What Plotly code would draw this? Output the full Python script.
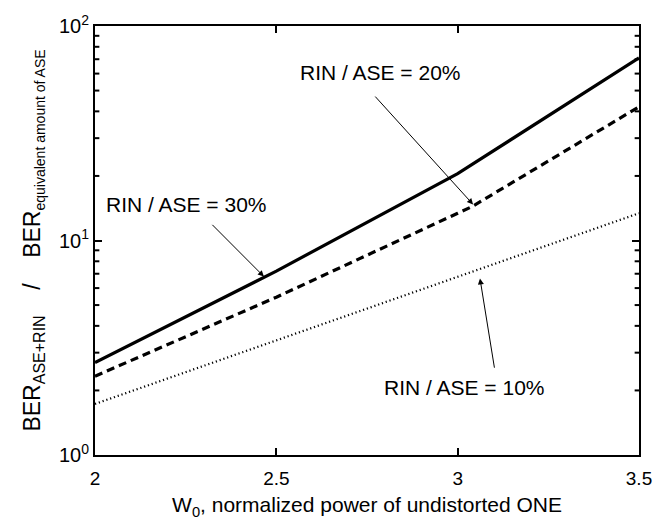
import plotly.graph_objects as go

# Data
x_solid = [2.0, 2.5, 3.0, 3.5]
y_solid = [2.70, 7.2, 20.5, 71.0]          # RIN / ASE = 30%
x_dash = [2.0, 2.5, 3.0, 3.04, 3.5]
y_dash = [2.33, 5.44, 13.4, 14.4, 42.0]     # RIN / ASE = 20%
x_dot = [2.0, 2.5, 3.0, 3.5]
y_dot = [1.73, 3.43, 6.8, 13.4]             # RIN / ASE = 10%

x_ticks = [2, 2.5, 3, 3.5]
x_ticktext = ["2", "2.5", "3", "3.5"]
y_ticks = [1, 10, 100]
y_ticktext = ["10<sup>0</sup>", "10<sup>1</sup>", "10<sup>2</sup>"]
y_minor = [2, 3, 4, 5, 6, 7, 8, 9, 20, 30, 40, 50, 60, 70, 80, 90]

FONT = "Liberation Sans, Arial, sans-serif"

fig = go.Figure()
fig.add_trace(go.Scatter(x=x_solid, y=y_solid, mode="lines",
                         line=dict(color="black", width=3.2)))
fig.add_trace(go.Scatter(x=x_dash, y=y_dash, mode="lines",
                         line=dict(color="black", width=3.2, dash="8px,5px")))
fig.add_trace(go.Scatter(x=x_dot, y=y_dot, mode="lines",
                         line=dict(color="black", width=2.2, dash="1.2px,2.8px")))

# minor log ticks on left and right frame edges
for v in y_minor:
    for x0, x1 in ((0, 0.008), (0.992, 1)):
        fig.add_shape(type="line", xref="x domain", yref="y", x0=x0, x1=x1,
                      y0=v, y1=v, line=dict(color="black", width=2))

def ann_text(x, ly, text):
    fig.add_annotation(x=x, y=ly, xref="x", yref="y", text=text, showarrow=False,
                       font=dict(family=FONT, size=21, color="black"))

def ann_arrow(tx, tly, hx, hly):
    fig.add_annotation(x=hx, y=hly, ax=tx, ay=tly, xref="x", yref="y",
                       axref="x", ayref="y", text="", showarrow=True,
                       arrowhead=2, arrowsize=1.2, arrowwidth=1, arrowcolor="black",
                       standoff=0, startstandoff=0)

ann_text(2.252, 1.168, "RIN / ASE = 30%")
ann_text(2.788, 1.784, "RIN / ASE = 20%")
ann_text(3.018, 0.313, "RIN / ASE = 10%")
ann_arrow(2.3195, 1.080, 2.4657, 0.832)
ann_arrow(2.769, 1.678, 3.0425, 1.168)
ann_arrow(3.102, 0.400, 3.0615, 0.823)

sp = "\u00a0"
ytitle = ("BER<sub><span style='font-size:16px'>ASE+RIN</span></sub>" + sp * 4 + "/" + sp * 4 +
          "BER<sub><span style='font-size:14px'>equivalent amount of ASE</span></sub>")

fig.update_layout(
    width=664, height=525,
    margin=dict(l=95, r=15, t=22, b=68),
    paper_bgcolor="white", plot_bgcolor="white",
    showlegend=False,
    font=dict(family=FONT, color="black", size=19),
    xaxis=dict(range=[2, 3.5], tickmode="array", tickvals=x_ticks, ticktext=x_ticktext,
               showgrid=False, zeroline=False, showline=True, linecolor="black",
               linewidth=2, mirror="allticks", ticks="inside", ticklen=7,
               tickwidth=2, tickcolor="#000000", tickfont=dict(size=19),
               ticklabelstandoff=5,
               title=dict(text="W<sub>0</sub>, normalized power of undistorted ONE",
                          font=dict(size=21), standoff=10)),
    yaxis=dict(type="log", range=[0, 2], tickmode="array", tickvals=y_ticks, ticktext=y_ticktext,
               showgrid=False, zeroline=False, showline=True, linecolor="black",
               linewidth=2, mirror="allticks", ticks="inside", ticklen=7,
               tickwidth=2, tickcolor="#000000", tickfont=dict(size=20),
               title=dict(text=ytitle, font=dict(size=23), standoff=12)),
)

fig.write_html("out.html")
